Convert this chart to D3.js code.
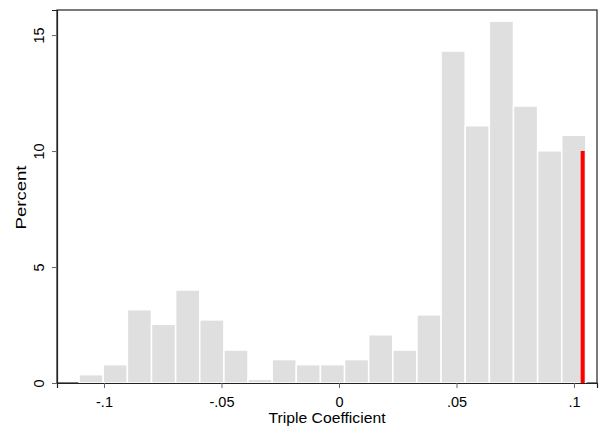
<!DOCTYPE html>
<html>
<head>
<meta charset="utf-8">
<script src="https://cdn.jsdelivr.net/npm/d3@7/dist/d3.min.js"></script>
<style>
  html, body { margin: 0; padding: 0; background: #fff; }
  svg { display: block; font-family: "Liberation Sans", Arial, sans-serif; }
</style>
</head>
<body>
<svg id="chart" width="601" height="429"></svg>
<script>
// Histogram of triple coefficients (percent of estimates per bin)
const binStart = -0.1106;
const binWidth = 0.01027;
const percents = [0.36, 0.79, 3.16, 2.53, 4.01, 2.72, 1.42, 0.16, 1.01, 0.79,
                  0.79, 1.01, 2.08, 1.42, 2.94, 14.31, 11.09, 15.60, 11.94, 10.01, 10.68];
const xTicks = [-0.1, -0.05, 0, 0.05, 0.1];
const xTickLabels = ["-.1", "-.05", "0", ".05", ".1"];
const yTicks = [0, 5, 10, 15];
// Reference estimate marked in red
const refValue = 0.1037;
const refHeight = 10.0;

const svg = d3.select("#chart");
const mLeft = 57, mRight = 597, mTop = 10, mBottom = 383;

const x = d3.scaleLinear().domain([-0.12, 0.1098]).range([mLeft, mRight]);
const y = d3.scaleLinear().domain([0, 16.08]).range([mBottom, mTop]);

// Plot region frame
svg.append("rect")
  .attr("x", mLeft).attr("y", mTop)
  .attr("width", mRight - mLeft).attr("height", mBottom - mTop)
  .attr("fill", "none").attr("stroke", "#222").attr("stroke-width", 1.2);

// Bars
const bars = percents.map((p, i) => ({ x0: binStart + i * binWidth, x1: binStart + (i + 1) * binWidth, p }));
svg.append("g").selectAll("rect").data(bars).join("rect")
  .attr("x", d => x(d.x0))
  .attr("y", d => y(d.p))
  .attr("width", d => x(d.x1) - x(d.x0))
  .attr("height", d => y(0) - y(d.p))
  .attr("fill", "#dfdfdf")
  .attr("stroke", "#fff")
  .attr("stroke-width", 1.5);

// Red reference line
svg.append("line")
  .attr("x1", x(refValue)).attr("x2", x(refValue))
  .attr("y1", y(0)).attr("y2", y(refHeight))
  .attr("stroke", "#ff0000").attr("stroke-width", 4);

// X axis
const xAxis = svg.append("g").attr("transform", `translate(0,${mBottom})`)
  .call(d3.axisBottom(x).tickValues(xTicks).tickFormat((d, i) => xTickLabels[i]).tickSize(5));
xAxis.select(".domain").attr("stroke", "#222").attr("stroke-width", 1.2);
xAxis.selectAll(".tick line").attr("stroke", "#666");
xAxis.selectAll("text").attr("font-size", 14.5).attr("fill", "#000")
  .attr("font-family", "'Liberation Sans', Arial, sans-serif")
  .attr("y", 23.7).attr("dy", 0);

// Y axis with rotated tick labels
const yAxis = svg.append("g").attr("transform", `translate(${mLeft},0)`)
  .call(d3.axisLeft(y).tickValues(yTicks).tickSize(5));
yAxis.select(".domain").attr("stroke", "#222").attr("stroke-width", 1.2);
yAxis.selectAll(".tick line").attr("stroke", "#666");
yAxis.selectAll(".tick text")
  .attr("font-size", 14.5).attr("fill", "#000")
  .attr("font-family", "'Liberation Sans', Arial, sans-serif")
  .attr("x", 0).attr("y", -13.5).attr("dy", 0)
  .attr("text-anchor", "middle")
  .attr("transform", "rotate(-90)");

// Axis titles
svg.append("text")
  .attr("x", 327).attr("y", 422.7)
  .attr("text-anchor", "middle").attr("font-size", 15)
  .attr("textLength", 117).attr("lengthAdjust", "spacingAndGlyphs")
  .text("Triple Coefficient");
svg.append("text")
  .attr("transform", "translate(25.7,197.5) rotate(-90)")
  .attr("text-anchor", "middle").attr("font-size", 15)
  .attr("textLength", 64).attr("lengthAdjust", "spacingAndGlyphs")
  .text("Percent");
</script>
</body>
</html>
